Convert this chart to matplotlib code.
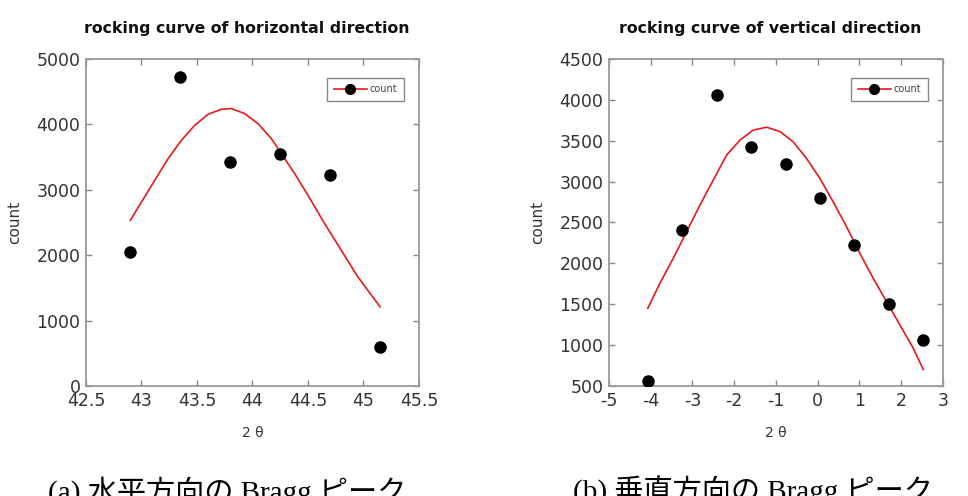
import matplotlib
matplotlib.use('Agg')
import matplotlib.pyplot as plt
from matplotlib.lines import Line2D

# Measured points (horizontal direction)
h_theta = [42.9, 43.35, 43.8, 44.25, 44.7, 45.15]
h_count = [2050, 4720, 3420, 3550, 3225, 600]

# Fit curve (horizontal)
h_fit_theta = [42.9, 43.0, 43.12, 43.24, 43.36, 43.48, 43.6, 43.72, 43.81, 43.93,
               44.05, 44.17, 44.26, 44.38, 44.5, 44.65, 44.8, 44.95, 45.15]
h_fit_count = [2534, 2813, 3145, 3477, 3757, 3986, 4154, 4231, 4242, 4165,
               4012, 3783, 3554, 3248, 2916, 2483, 2075, 1667, 1210]

# Measured points (vertical direction)
v_theta = [-4.07, -3.25, -2.41, -1.59, -0.77, 0.05, 0.875, 1.71, 2.53]
v_count = [565, 2405, 4065, 3420, 3220, 2800, 2225, 1500, 1065]

# Fit curve (vertical)
v_fit_theta = [-4.07, -3.78, -3.46, -3.14, -2.82, -2.50, -2.18, -1.86, -1.54,
               -1.22, -0.90, -0.59, -0.27, 0.05, 0.37, 0.69, 1.01, 1.33,
               1.65, 1.97, 2.29, 2.53]
v_fit_count = [1450, 1756, 2062, 2387, 2714, 3020, 3326, 3509, 3631,
               3665, 3611, 3488, 3285, 3041, 2754, 2449, 2123, 1817,
               1531, 1246, 961, 700]

h_xticks = [42.5, 43, 43.5, 44, 44.5, 45, 45.5]
h_xlabels = ['42.5', '43', '43.5', '44', '44.5', '45', '45.5']
h_yticks = [0, 1000, 2000, 3000, 4000, 5000]
v_xticks = [-5, -4, -3, -2, -1, 0, 1, 2, 3]
v_xlabels = ['-5', '-4', '-3', '-2', '-1', '0', '1', '2', '3']
v_yticks = [500, 1000, 1500, 2000, 2500, 3000, 3500, 4000, 4500]

titles = ['rocking curve of horizontal direction', 'rocking curve of vertical direction']
captions = ['(a) 水平方向の Bragg ピーク', '(b) 垂直方向の Bragg ピーク']

plt.rcParams['font.family'] = ['DejaVu Sans']

fig = plt.figure(figsize=(9.68, 4.96), dpi=100)
ax1 = fig.add_axes([0.0888, 0.2218, 0.3440, 0.6593])
ax2 = fig.add_axes([0.6291, 0.2218, 0.3450, 0.6593])

panels = [
    (ax1, h_theta, h_count, h_fit_theta, h_fit_count, h_xticks, h_xlabels, h_yticks, (42.5, 45.5), (0, 5000)),
    (ax2, v_theta, v_count, v_fit_theta, v_fit_count, v_xticks, v_xlabels, v_yticks, (-5, 3), (500, 4500)),
]

for i, (ax, x, y, fx, fy, xt, xl, yt, xlim, ylim) in enumerate(panels):
    ax.plot(fx, fy, color='#e8191c', lw=1.2, zorder=2)
    ax.plot(x, y, 'o', color='black', ms=8, zorder=3)
    ax.set_xlim(*xlim)
    ax.set_ylim(*ylim)
    ax.set_xticks(xt)
    ax.set_xticklabels(xl)
    ax.set_yticks(yt)
    ax.set_yticklabels([str(v) for v in yt])
    ax.tick_params(direction='in', top=True, right=True, length=4, width=1,
                   color='#888888', labelsize=12.5, labelcolor='#333333', pad=4)
    for s in ax.spines.values():
        s.set_color('#999999')
        s.set_linewidth(1.3)
    ax.set_title(titles[i], fontsize=11.3, fontweight='bold', pad=19,
                 color='#111111', x=0.483)
    ax.set_xlabel('2 θ', fontsize=10, color='#333333', labelpad=12)
    ax.set_ylabel('count', fontsize=11, color='#333333', labelpad=10)
    handle = Line2D([], [], color='#e8191c', lw=1.2, marker='o', mfc='black',
                    mec='black', ms=7)
    leg = ax.legend([handle], ['count'], loc='upper right', fontsize=7,
                    fancybox=False, edgecolor='#888888', framealpha=1,
                    bbox_to_anchor=(0.97, 0.958), borderpad=0.7,
                    handlelength=3.4, handletextpad=0.3, labelcolor='#444444')
    leg.get_frame().set_linewidth(1.0)

fig.text(0.235, -0.01, captions[0], fontsize=21, ha='center', va='baseline',
         family=['Liberation Serif', 'Noto Sans CJK JP'])
fig.text(0.778, -0.01, captions[1], fontsize=21, ha='center', va='baseline',
         family=['Liberation Serif', 'Noto Sans CJK JP'])

fig.savefig('out.png', dpi=100)
